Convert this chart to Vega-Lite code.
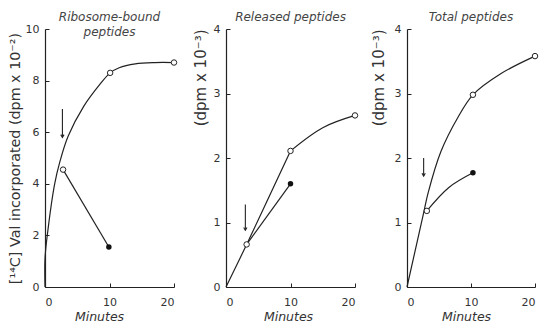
{
  "$schema": "https://vega.github.io/schema/vega-lite/v6.json",
  "padding": {"left": 7, "top": 11, "right": 0, "bottom": 0},
  "background": "white",
  "spacing": 52,
  "bounds": "flush",
  "datasets": {
    "pts": [
      {"panel": "A", "kind": "open", "minutes": 2.8, "value": 4.55},
      {"panel": "A", "kind": "open", "minutes": 10.1, "value": 8.3},
      {"panel": "A", "kind": "open", "minutes": 20, "value": 8.7},
      {"panel": "A", "kind": "filled", "minutes": 9.9, "value": 1.55},
      {"panel": "B", "kind": "open", "minutes": 3.2, "value": 0.66},
      {"panel": "B", "kind": "open", "minutes": 10, "value": 2.11},
      {"panel": "B", "kind": "open", "minutes": 20, "value": 2.66},
      {"panel": "B", "kind": "filled", "minutes": 10, "value": 1.6},
      {"panel": "C", "kind": "open", "minutes": 3.1, "value": 1.18},
      {"panel": "C", "kind": "open", "minutes": 10.3, "value": 2.98},
      {"panel": "C", "kind": "open", "minutes": 20, "value": 3.58},
      {"panel": "C", "kind": "filled", "minutes": 10.3, "value": 1.77}
    ],
    "curves": [
      {"panel": "A", "series": "a1", "seq": 1, "minutes": 0, "value": 0},
      {"panel": "A", "series": "a1", "seq": 2, "minutes": 0, "value": 1.1},
      {"panel": "A", "series": "a1", "seq": 3, "minutes": 0.4, "value": 2.1},
      {"panel": "A", "series": "a1", "seq": 4, "minutes": 1.5, "value": 4.0},
      {"panel": "A", "series": "a1", "seq": 5, "minutes": 2.3, "value": 4.85},
      {"panel": "A", "series": "a1", "seq": 6, "minutes": 3.6, "value": 5.85},
      {"panel": "A", "series": "a1", "seq": 7, "minutes": 6, "value": 7.0},
      {"panel": "A", "series": "a1", "seq": 8, "minutes": 8.5, "value": 7.85},
      {"panel": "A", "series": "a1", "seq": 9, "minutes": 10.1, "value": 8.3},
      {"panel": "A", "series": "a1", "seq": 10, "minutes": 11.5, "value": 8.5},
      {"panel": "A", "series": "a1", "seq": 11, "minutes": 14, "value": 8.65},
      {"panel": "A", "series": "a1", "seq": 12, "minutes": 17, "value": 8.7},
      {"panel": "A", "series": "a1", "seq": 13, "minutes": 20, "value": 8.7},
      {"panel": "A", "series": "a2", "seq": 1, "minutes": 2.8, "value": 4.55},
      {"panel": "A", "series": "a2", "seq": 2, "minutes": 9.9, "value": 1.55},
      {"panel": "B", "series": "b1", "seq": 1, "minutes": 0, "value": 0},
      {"panel": "B", "series": "b1", "seq": 2, "minutes": 3.2, "value": 0.66},
      {"panel": "B", "series": "b1", "seq": 3, "minutes": 10, "value": 2.11},
      {"panel": "B", "series": "b2", "seq": 1, "minutes": 10, "value": 2.11},
      {"panel": "B", "series": "b2", "seq": 2, "minutes": 15, "value": 2.47},
      {"panel": "B", "series": "b2", "seq": 3, "minutes": 20, "value": 2.66},
      {"panel": "B", "series": "b3", "seq": 1, "minutes": 3.2, "value": 0.66},
      {"panel": "B", "series": "b3", "seq": 2, "minutes": 10, "value": 1.6},
      {"panel": "C", "series": "c1", "seq": 1, "minutes": 0, "value": 0},
      {"panel": "C", "series": "c1", "seq": 2, "minutes": 2.6, "value": 1.15},
      {"panel": "C", "series": "c1", "seq": 3, "minutes": 3.3, "value": 1.46},
      {"panel": "C", "series": "c1", "seq": 4, "minutes": 5.3, "value": 2.1},
      {"panel": "C", "series": "c1", "seq": 5, "minutes": 7.9, "value": 2.62},
      {"panel": "C", "series": "c1", "seq": 6, "minutes": 10.3, "value": 2.98},
      {"panel": "C", "series": "c1", "seq": 7, "minutes": 14.7, "value": 3.31},
      {"panel": "C", "series": "c1", "seq": 8, "minutes": 20, "value": 3.58},
      {"panel": "C", "series": "c2", "seq": 1, "minutes": 3.1, "value": 1.18},
      {"panel": "C", "series": "c2", "seq": 2, "minutes": 6.5, "value": 1.54},
      {"panel": "C", "series": "c2", "seq": 3, "minutes": 10.3, "value": 1.77}
    ],
    "arrows": [
      {"panel": "A", "minutes": 2.7, "value": 6.9, "value2": 5.8},
      {"panel": "B", "minutes": 3.0, "value": 1.28, "value2": 0.88},
      {"panel": "C", "minutes": 2.6, "value": 2.0, "value2": 1.72}
    ]
  },
  "hconcat": [
    {
      "width": 129,
      "height": 258,
      "title": {"text": ["Ribosome-bound", "peptides"], "offset": -16, "lineHeight": 15},
      "layer": [
        {
          "data": {"name": "curves"},
          "transform": [{"filter": "datum.panel == 'A'"}],
          "mark": {"type": "line", "interpolate": "catmull-rom", "color": "#222", "strokeWidth": 1.2},
          "encoding": {
            "x": {"field": "minutes", "type": "quantitative", "scale": {"domain": [0, 20], "nice": false},
                  "axis": {"values": [0, 10, 20], "title": "Minutes", "titleX": 54, "titleY": 29}},
            "y": {"field": "value", "type": "quantitative", "scale": {"domain": [0, 10], "nice": false},
                  "axis": {"values": [0, 2, 4, 6, 8, 10], "title": "[¹⁴C] Val incorporated (dpm x 10⁻²)", "titleX": -30, "titleFontSize": 14.3}},
            "detail": {"field": "series"},
            "order": {"field": "seq"}
          }
        },
        {
          "data": {"name": "arrows"},
          "transform": [{"filter": "datum.panel == 'A'"}],
          "mark": {"type": "rule", "color": "#222", "strokeWidth": 1.1},
          "encoding": {"x": {"field": "minutes", "type": "quantitative"}, "y": {"field": "value", "type": "quantitative"}, "y2": {"field": "value2"}}
        },
        {
          "data": {"name": "arrows"},
          "transform": [{"filter": "datum.panel == 'A'"}],
          "mark": {"type": "point", "shape": "M-0.6,-1L0,0L0.6,-1", "filled": false, "size": 30, "color": "#222", "strokeWidth": 1.1, "opacity": 1},
          "encoding": {"x": {"field": "minutes", "type": "quantitative"}, "y": {"field": "value2", "type": "quantitative"}}
        },
        {
          "data": {"name": "pts"},
          "transform": [{"filter": "datum.panel == 'A' && datum.kind == 'open'"}],
          "mark": {"type": "point", "shape": "circle", "filled": true, "fill": "white", "stroke": "#222", "strokeWidth": 1, "size": 30, "opacity": 1},
          "encoding": {"x": {"field": "minutes", "type": "quantitative"}, "y": {"field": "value", "type": "quantitative"}}
        },
        {
          "data": {"name": "pts"},
          "transform": [{"filter": "datum.panel == 'A' && datum.kind == 'filled'"}],
          "mark": {"type": "point", "shape": "circle", "filled": true, "color": "#111", "size": 30, "opacity": 1},
          "encoding": {"x": {"field": "minutes", "type": "quantitative"}, "y": {"field": "value", "type": "quantitative"}}
        }
      ]
    },
    {
      "width": 129,
      "height": 258,
      "title": {"text": "Released peptides", "offset": -1},
      "layer": [
        {
          "data": {"name": "curves"},
          "transform": [{"filter": "datum.panel == 'B'"}],
          "mark": {"type": "line", "interpolate": "catmull-rom", "color": "#222", "strokeWidth": 1.2},
          "encoding": {
            "x": {"field": "minutes", "type": "quantitative", "scale": {"domain": [0, 20], "nice": false},
                  "axis": {"values": [0, 10, 20], "title": "Minutes", "titleX": 62, "titleY": 29}},
            "y": {"field": "value", "type": "quantitative", "scale": {"domain": [0, 4], "nice": false},
                  "axis": {"values": [0, 1, 2, 3, 4], "title": "(dpm x 10⁻³)", "titleX": -26, "titleAnchor": "end", "titleFontSize": 15}},
            "detail": {"field": "series"},
            "order": {"field": "seq"}
          }
        },
        {
          "data": {"name": "arrows"},
          "transform": [{"filter": "datum.panel == 'B'"}],
          "mark": {"type": "rule", "color": "#222", "strokeWidth": 1.1},
          "encoding": {"x": {"field": "minutes", "type": "quantitative"}, "y": {"field": "value", "type": "quantitative"}, "y2": {"field": "value2"}}
        },
        {
          "data": {"name": "arrows"},
          "transform": [{"filter": "datum.panel == 'B'"}],
          "mark": {"type": "point", "shape": "M-0.6,-1L0,0L0.6,-1", "filled": false, "size": 30, "color": "#222", "strokeWidth": 1.1, "opacity": 1},
          "encoding": {"x": {"field": "minutes", "type": "quantitative"}, "y": {"field": "value2", "type": "quantitative"}}
        },
        {
          "data": {"name": "pts"},
          "transform": [{"filter": "datum.panel == 'B' && datum.kind == 'open'"}],
          "mark": {"type": "point", "shape": "circle", "filled": true, "fill": "white", "stroke": "#222", "strokeWidth": 1, "size": 30, "opacity": 1},
          "encoding": {"x": {"field": "minutes", "type": "quantitative"}, "y": {"field": "value", "type": "quantitative"}}
        },
        {
          "data": {"name": "pts"},
          "transform": [{"filter": "datum.panel == 'B' && datum.kind == 'filled'"}],
          "mark": {"type": "point", "shape": "circle", "filled": true, "color": "#111", "size": 30, "opacity": 1},
          "encoding": {"x": {"field": "minutes", "type": "quantitative"}, "y": {"field": "value", "type": "quantitative"}}
        }
      ]
    },
    {
      "width": 128,
      "height": 258,
      "title": {"text": "Total peptides", "offset": -1},
      "layer": [
        {
          "data": {"name": "curves"},
          "transform": [{"filter": "datum.panel == 'C'"}],
          "mark": {"type": "line", "interpolate": "catmull-rom", "color": "#222", "strokeWidth": 1.2},
          "encoding": {
            "x": {"field": "minutes", "type": "quantitative", "scale": {"domain": [0, 20], "nice": false},
                  "axis": {"values": [0, 10, 20], "title": "Minutes", "titleX": 59, "titleY": 29}},
            "y": {"field": "value", "type": "quantitative", "scale": {"domain": [0, 4], "nice": false},
                  "axis": {"values": [0, 1, 2, 3, 4], "title": "(dpm x 10⁻³)", "titleX": -29, "titleAnchor": "end", "titleFontSize": 15}},
            "detail": {"field": "series"},
            "order": {"field": "seq"}
          }
        },
        {
          "data": {"name": "arrows"},
          "transform": [{"filter": "datum.panel == 'C'"}],
          "mark": {"type": "rule", "color": "#222", "strokeWidth": 1.1},
          "encoding": {"x": {"field": "minutes", "type": "quantitative"}, "y": {"field": "value", "type": "quantitative"}, "y2": {"field": "value2"}}
        },
        {
          "data": {"name": "arrows"},
          "transform": [{"filter": "datum.panel == 'C'"}],
          "mark": {"type": "point", "shape": "M-0.6,-1L0,0L0.6,-1", "filled": false, "size": 30, "color": "#222", "strokeWidth": 1.1, "opacity": 1},
          "encoding": {"x": {"field": "minutes", "type": "quantitative"}, "y": {"field": "value2", "type": "quantitative"}}
        },
        {
          "data": {"name": "pts"},
          "transform": [{"filter": "datum.panel == 'C' && datum.kind == 'open'"}],
          "mark": {"type": "point", "shape": "circle", "filled": true, "fill": "white", "stroke": "#222", "strokeWidth": 1, "size": 30, "opacity": 1},
          "encoding": {"x": {"field": "minutes", "type": "quantitative"}, "y": {"field": "value", "type": "quantitative"}}
        },
        {
          "data": {"name": "pts"},
          "transform": [{"filter": "datum.panel == 'C' && datum.kind == 'filled'"}],
          "mark": {"type": "point", "shape": "circle", "filled": true, "color": "#111", "size": 30, "opacity": 1},
          "encoding": {"x": {"field": "minutes", "type": "quantitative"}, "y": {"field": "value", "type": "quantitative"}}
        }
      ]
    }
  ],
  "config": {
    "font": "DejaVu Sans",
    "view": {"stroke": null},
    "title": {"font": "DejaVu Sans", "fontSize": 12, "fontStyle": "italic", "fontWeight": "normal", "color": "#444", "anchor": "middle"},
    "axis": {
      "grid": false,
      "format": "d",
      "domainColor": "#222",
      "domainWidth": 1.2,
      "tickColor": "#222",
      "tickWidth": 1,
      "tickSize": -4,
      "labelFont": "DejaVu Sans",
      "labelFontSize": 11,
      "labelColor": "#333",
      "titleFont": "DejaVu Sans",
      "titleFontWeight": "normal",
      "titleFontSize": 12.5,
      "titleColor": "#333",
      "titleBaseline": "middle"
    },
    "axisX": {"labelPadding": 13, "titleFontStyle": "italic"},
    "axisY": {"labelPadding": 10}
  }
}
